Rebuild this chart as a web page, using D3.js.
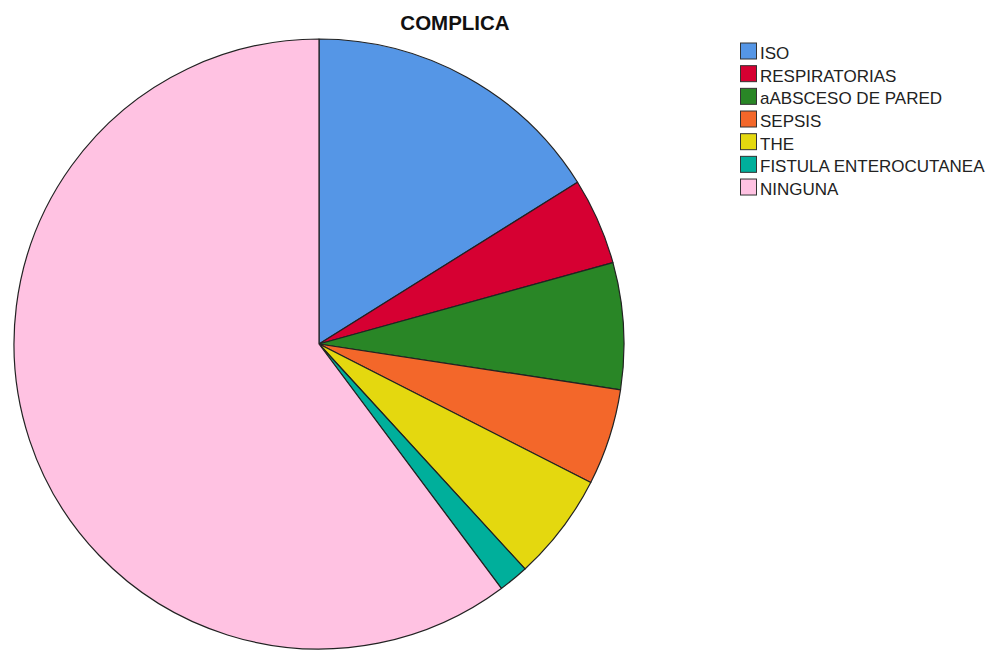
<!DOCTYPE html>
<html><head><meta charset="utf-8">
<script src="https://cdn.jsdelivr.net/npm/d3@7"></script>
<style>body{margin:0;background:#fff;font-family:"Liberation Sans",Arial,sans-serif;}</style>
</head><body>
<svg id="c" width="991" height="651"></svg>
<script>
const categories = ["ISO","RESPIRATORIAS","aABSCESO DE PARED","SEPSIS","THE","FISTULA ENTEROCUTANEA","NINGUNA"];
const values = [16.1, 4.6, 6.7, 5.1, 5.7, 1.6, 60.2];
const colors = ["#5596e6","#d60032","#298626","#f3672a","#e4d80f","#00af9b","#ffc2e2"];
const title = "COMPLICA";

const svg = d3.select("#c");
const cx = 319, cy = 344, r = 305;
const pie = d3.pie().sort(null).value(d => d.v);
const data = categories.map((c,i)=>({c, v: values[i], col: colors[i]}));
const arc = d3.arc().innerRadius(0).outerRadius(r);
const g = svg.append("g").attr("transform",`translate(${cx},${cy})`);
g.selectAll("path").data(pie(data)).join("path")
  .attr("d", arc).attr("fill", d=>d.data.col)
  .attr("stroke","#222").attr("stroke-width",1.2).attr("stroke-linejoin","round");

svg.append("text").attr("x",455).attr("y",30).attr("text-anchor","middle")
  .attr("font-weight","bold").attr("font-size",20.5).attr("fill","#111").text(title);

const ly = d3.scaleBand().domain(categories).range([43, 43+22.67*categories.length]);
const lg = svg.append("g");
const items = lg.selectAll("g").data(data).join("g")
  .attr("transform", d=>`translate(740.5,${ly(d.c)})`);
items.append("rect").attr("x",0).attr("y",0).attr("width",16).attr("height",16)
  .attr("fill",d=>d.col).attr("stroke","#333").attr("stroke-width",1);
items.append("text").attr("x",19.5).attr("y",16).attr("font-size",17).attr("fill","#222").text(d=>d.c);
</script>
</body></html>
